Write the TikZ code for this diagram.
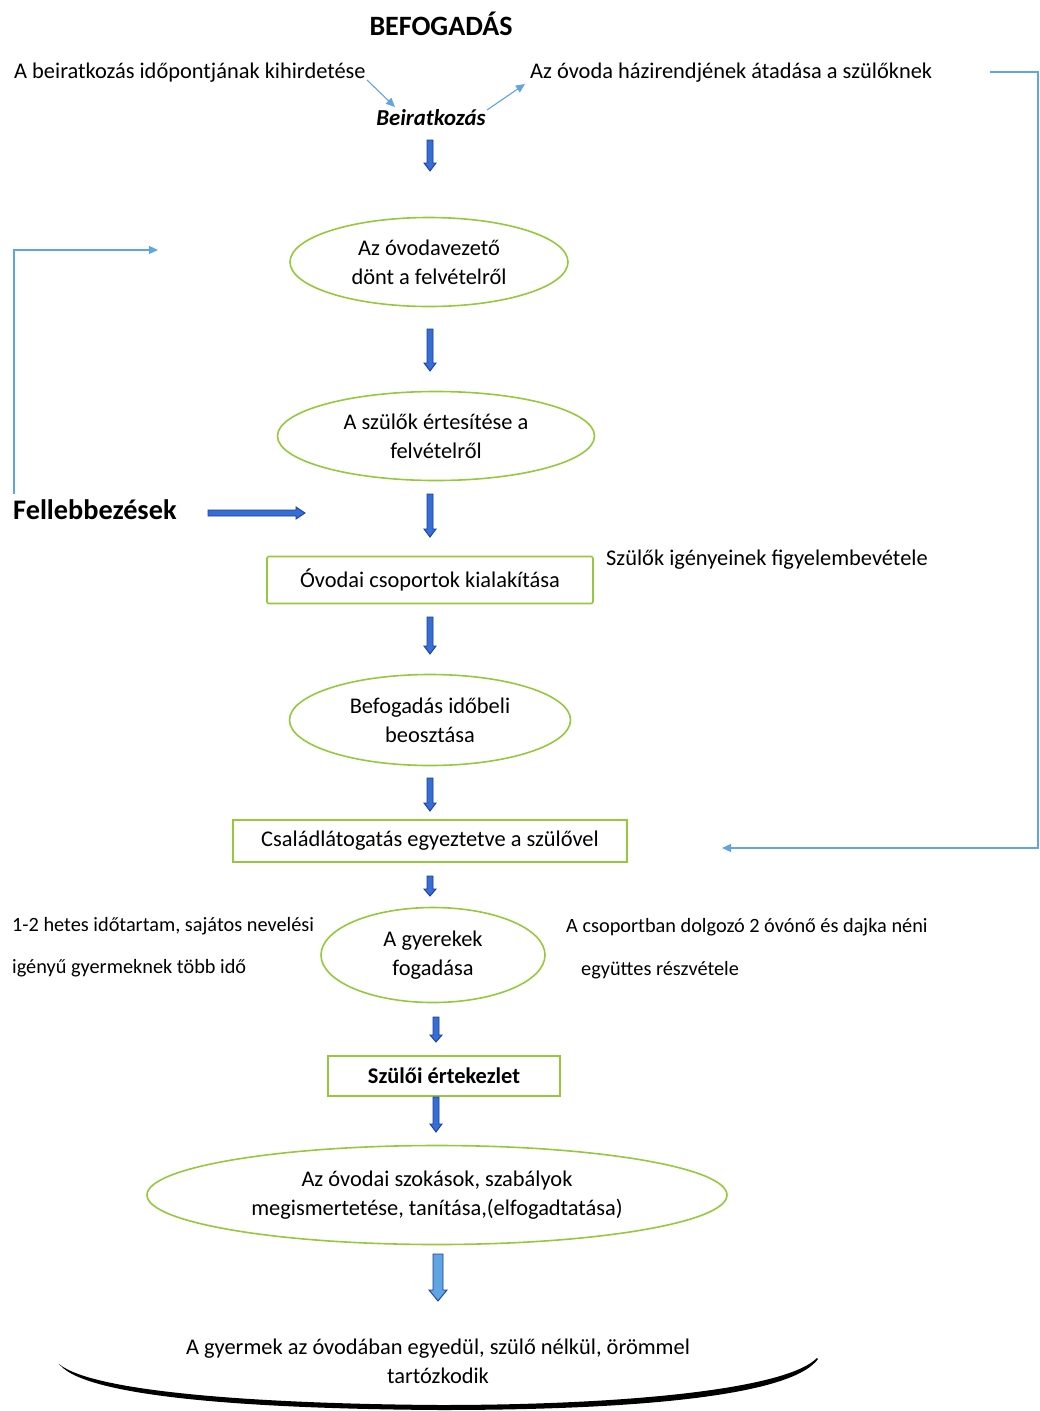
\documentclass[tikz,border=0pt]{standalone}
\usepackage{fontspec}
\setmainfont{Carlito}
\usetikzlibrary{shapes.geometric,arrows.meta}
\definecolor{grn}{RGB}{150,200,60}
\definecolor{lblue}{RGB}{95,165,225}
\definecolor{dblue}{RGB}{25,60,170}
\definecolor{mblue}{RGB}{55,110,210}
% block arrow: x, y top, y tip, half shaft, half head, head length, fill
\newcommand\vblock[7]{%
  \draw[dblue, line width=0.9pt, fill=#7, line join=miter]
   ({#1-#4},{#2}) -- ({#1+#4},{#2}) -- ({#1+#4},{#3-#6}) -- ({#1+#5},{#3-#6}) -- ({#1},{#3})
   -- ({#1-#5},{#3-#6}) -- ({#1-#4},{#3-#6}) -- cycle;}
\begin{document}
\begin{tikzpicture}[x=1pt,y=-1pt,
  every node/.style={font=\fontsize{22.4}{29}\selectfont, text=black},
  oval/.style={ellipse, draw=grn, line width=1.6pt, inner sep=0pt, align=center},
  boxn/.style={rectangle, draw=grn, line width=1.6pt, inner sep=0pt, align=center, rounded corners=2pt},
  plain/.style={inner sep=0pt, anchor=west},
  side/.style={plain, font=\fontsize{20.3}{24}\selectfont},
  thin/.style={lblue, line width=1.1pt, -{Triangle[length=9pt,width=8pt]}}]
\useasboundingbox (0,0) rectangle (1040,1411);

\node[font=\fontsize{28}{32}\selectfont\bfseries] (title) at (441,24) {BEFOGADÁS};
\node[plain] (t1) at (14,73) {A beiratkozás időpontjának kihirdetése};
\node[plain] (t2) at (530,73) {Az óvoda házirendjének átadása a szülőknek};
\node[font=\fontsize{22.8}{26}\selectfont\bfseries\itshape] (beir) at (431,118) {Beiratkozás};
\coordinate (p1) at (367,80);
\coordinate (p2) at (395,107);
\coordinate (p3) at (487,110);
\coordinate (p4) at (525,84);
\draw[thin] (p1) -- (p2);
\draw[thin] (p3) -- (p4);

\node[oval, minimum width=278pt, minimum height=89pt] (e1) at (429,262) {Az óvodavezető\\dönt a felvételről};
\node[oval, minimum width=317pt, minimum height=89pt] (e2) at (436,436) {A szülők értesítése a\\felvételről};
\node[boxn, minimum width=326pt, minimum height=47pt] (b1) at (430,580) {Óvodai csoportok kialakítása};
\node[oval, minimum width=281pt, minimum height=91pt] (e3) at (430,720) {Befogadás időbeli\\beosztása};
\node[boxn, rounded corners=0pt, minimum width=394pt, minimum height=42pt] (b2) at (430,841) {Családlátogatás egyeztetve a szülővel};
\node[oval, minimum width=224pt, minimum height=95pt] (e4) at (433,955) {A gyerekek\\fogadása};
\node[boxn, rounded corners=0pt, minimum width=232pt, minimum height=40pt, font=\fontsize{22.4}{24}\selectfont\bfseries] (b3) at (444,1076) {Szülői értekezlet};
\node[oval, minimum width=580pt, minimum height=99pt] (e5) at (437,1195) {Az óvodai szokások, szabályok\\megismertetése, tanítása,(elfogadtatása)};

\node[font=\fontsize{28.3}{32}\selectfont\bfseries, plain] (fell) at (13,510) {Fellebbezések};

\node[plain] (t3) at (606,560) {Szülők igényeinek figyelembevétele};
\node[side] (t4) at (12,926) {1-2 hetes időtartam, sajátos nevelési};
\node[side] (t5) at (12,968) {igényű gyermeknek több idő};
\node[side] (t6) at (566,927) {A csoportban dolgozó 2 óvónő és dajka néni};
\node[side] (t7) at (581,970) {együttes részvétele};
\node[align=center] (t8) at (438,1361) {A gyermek az óvodában egyedül, szülő nélkül, örömmel\\tartózkodik};

% block arrows
\vblock{430}{140}{171}{3}{6}{8}{mblue}
\vblock{430}{329}{371}{3}{6}{8}{mblue}
\vblock{430}{494}{537}{3}{6}{8}{mblue}
\vblock{430}{617}{654}{3}{6}{8}{mblue}
\vblock{430}{778}{811}{3}{6}{8}{mblue}
\vblock{430}{876}{896}{3}{6}{7}{mblue}
\vblock{436}{1017}{1042}{3}{6}{7}{mblue}
\vblock{436}{1097}{1132}{3}{6}{8}{mblue}
\vblock{438}{1254}{1301}{5}{9}{11}{lblue}
% horizontal block arrow
\draw[dblue, line width=0.9pt, fill=mblue, line join=miter]
  (208,510) -- (296,510) -- (296,507) -- (305,513) -- (296,519) -- (296,516) -- (208,516) -- cycle;

% feedback lines
\coordinate (l1) at (14,494);
\coordinate (l2) at (158,250);
\draw[thin] (l1) |- (l2);
\coordinate (r1) at (990,72);
\coordinate (r2) at (722,848);
\draw[thin] (r1) -| (1038,848) -- (r2);

% bottom curve
\coordinate (c1) at (60,1365);
\coordinate (c2) at (818,1359);
\fill[black] (c1) .. controls (90,1400) and (280,1409) .. (440,1410)
  .. controls (620,1410) and (790,1398) .. (c2)
  -- (817,1358) .. controls (785,1390) and (620,1405) .. (440,1405)
  .. controls (280,1404) and (95,1394) .. (59,1364) -- cycle;
\end{tikzpicture}
\end{document}
